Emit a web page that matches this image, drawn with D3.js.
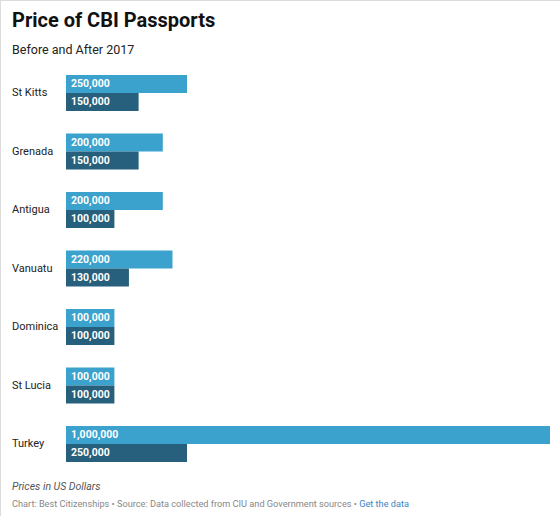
<!DOCTYPE html>
<html lang="en">
<head>
<meta charset="utf-8">
<title>Price of CBI Passports</title>
<script src="https://cdnjs.cloudflare.com/ajax/libs/d3/7.8.5/d3.min.js"></script>
<style>
    body {
        margin: 0;
        font-family: Roboto, "Noto Sans", sans-serif;
        background: #fff;
    }
    #chart {
        width: 560px;
        height: 516px;
    }
    .country { font-size: 11px; fill: #222; }
    .value { font-size: 10.5px; font-weight: bold; fill: #fff; }
</style>
</head>
<body>
<div id="chart"></div>
<script>

// data
var countries = ["St Kitts", "Grenada", "Antigua", "Vanuatu", "Dominica", "St Lucia", "Turkey"];
var before2017 = [250000, 200000, 200000, 220000, 100000, 100000, 1000000];
var after2017 = [150000, 150000, 100000, 130000, 100000, 100000, 250000];
var seriesKeys = ["before", "after"];
var seriesColors = ["#3ba2cd", "#27607c"];

var width = 560, height = 516;

var svg = d3.select("#chart").append("svg")
    .attr("width", width)
    .attr("height", height);

// frame border (top + left visible)
svg.append("rect")
    .attr("x", 0.5).attr("y", 0.5)
    .attr("width", width + 10).attr("height", height + 10)
    .attr("fill", "none")
    .attr("stroke", "#dcdcdc");

svg.append("text")
    .attr("x", 12).attr("y", 27)
    .style("font-size", "20px")
    .style("font-weight", "bold")
    .style("fill", "#111")
    .text("Price of CBI Passports");

svg.append("text")
    .attr("x", 12).attr("y", 54)
    .style("font-size", "12.5px")
    .style("fill", "#222")
    .text("Before and After 2017");

var rows = countries.map(function(c, i) {
    return { name: c, before: before2017[i], after: after2017[i] };
});

var x = d3.scaleLinear()
    .domain([0, 1000000])
    .range([66, 550]);

// step 58.5px, bar pair 36px tall
var y = d3.scaleBand()
    .domain(countries)
    .range([75, 462])
    .paddingInner(22.5 / 58.5)
    .paddingOuter(0)
    .align(0);

var ySub = d3.scaleBand()
    .domain(seriesKeys)
    .range([0, y.bandwidth()]);

var fmt = d3.format(",");

var groups = svg.selectAll("g.row")
    .data(rows)
    .enter().append("g")
    .attr("class", "row")
    .attr("transform", function(d) { return "translate(0," + y(d.name) + ")"; });

groups.append("text")
    .attr("class", "country")
    .attr("x", 12)
    .attr("y", y.bandwidth() / 2 + 3)
    .text(function(d) { return d.name; });

seriesKeys.forEach(function(k, j) {
    groups.append("rect")
        .attr("x", x(0))
        .attr("y", ySub(k))
        .attr("width", function(d) { return x(d[k]) - x(0); })
        .attr("height", ySub.bandwidth())
        .attr("fill", seriesColors[j]);

    groups.append("text")
        .attr("class", "value")
        .attr("x", x(0) + 5)
        .attr("y", ySub(k) + ySub.bandwidth() / 2 + 3)
        .text(function(d) { return fmt(d[k]); });
});

// footer
svg.append("text")
    .attr("x", 12).attr("y", 490)
    .style("font-size", "10.5px")
    .style("font-style", "italic")
    .style("fill", "#555")
    .text("Prices in US Dollars");

var foot = svg.append("text")
    .attr("x", 12).attr("y", 507)
    .style("font-size", "9.2px")
    .style("fill", "#888");
foot.append("tspan").text("Chart: Best Citizenships \u2022 Source: Data collected from CIU and Government sources \u2022 ");
foot.append("tspan").style("fill", "#3d84c4").text("Get the data");

</script>
</body>
</html>
